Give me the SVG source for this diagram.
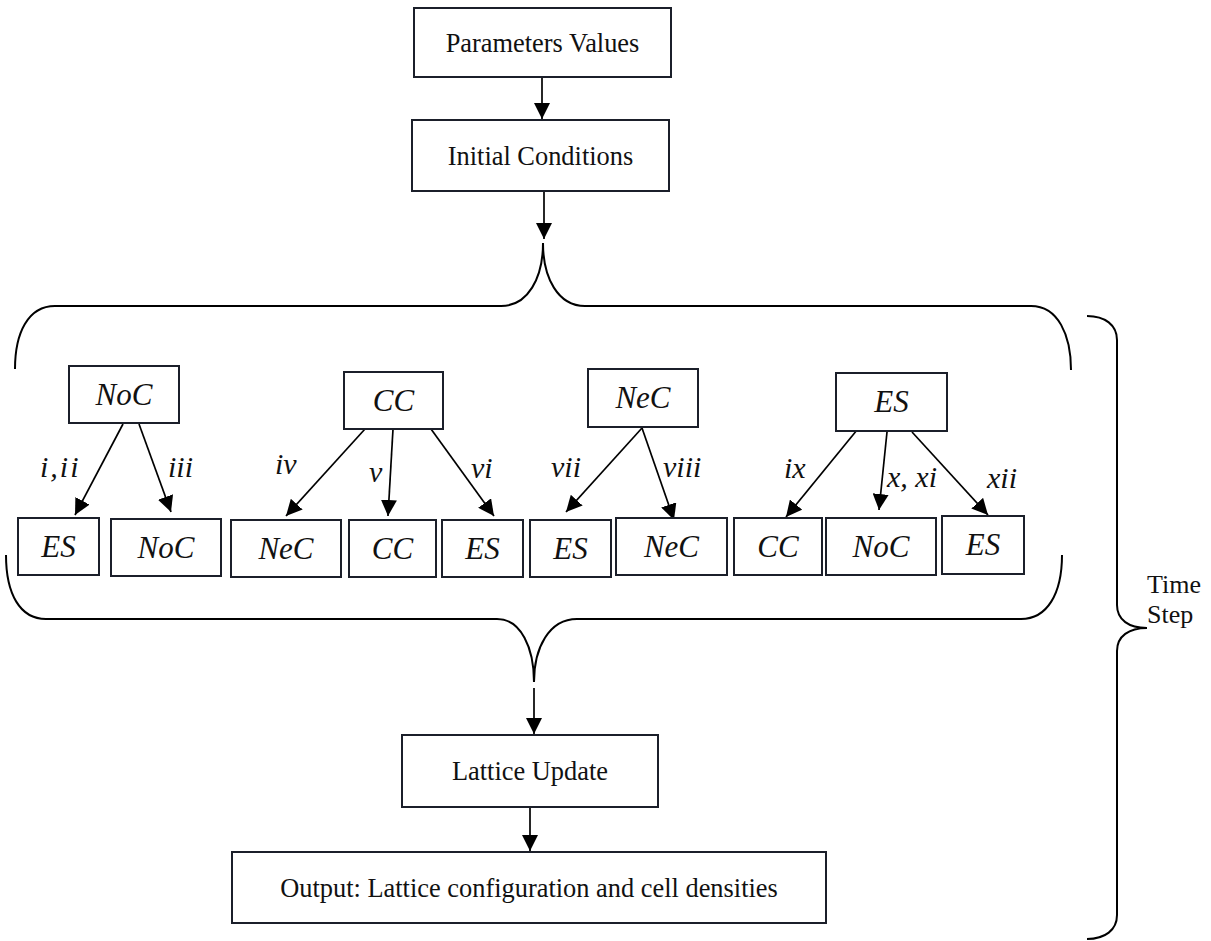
<svg xmlns="http://www.w3.org/2000/svg" width="1211" height="941" viewBox="0 0 1211 941">
<style>
.box{fill:#fff;stroke:#1b1f2a;stroke-width:2}
.t{font-family:"Liberation Serif","Times New Roman",serif;font-size:26.4px;fill:#111;text-anchor:middle}
.it{font-family:"Liberation Serif","Times New Roman",serif;font-style:italic;font-size:31px;fill:#111;text-anchor:middle}
.lb{font-family:"Liberation Serif","Times New Roman",serif;font-style:italic;font-size:30px;fill:#111}
.ts{font-family:"Liberation Serif","Times New Roman",serif;font-size:26px;fill:#111}
.c{stroke:#000;stroke-width:1.7;fill:none}
.br{stroke:#000;stroke-width:2;fill:none}
</style>
<defs>
<marker id="ah" markerUnits="userSpaceOnUse" markerWidth="17" markerHeight="16" refX="16" refY="8" orient="auto">
<path d="M0,0 L16,8 L0,16 z" fill="#000"/>
</marker>
</defs>
<rect width="1211" height="941" fill="#fff"/>

<g id="braces">
<path class="br" d="M15,369 C15,333 28,306 55,306 L501,306 C528,306 543,278 543,243 C543,278 558,306 585,306 L1031,306 C1058,306 1071,335 1071,370"/>
<path class="br" d="M6,555 C6,594 20,619 46,619 L497,619 C521,619 534,648 534,682 C534,648 549,619 577,619 L1021,619 C1047,619 1062,594 1062,555"/>
<path class="br" d="M1087,316 C1105,316 1117,325 1117,340 L1117,605 C1117,620 1129,628 1147,628 C1129,628 1117,636 1117,651 L1117,915 C1117,930 1105,939 1087,939"/>
</g>

<g id="connectors">
<line class="c" x1="542" y1="77" x2="542" y2="119" marker-end="url(#ah)"/>
<line class="c" x1="544" y1="192" x2="544" y2="239" marker-end="url(#ah)"/>
<line class="c" x1="534" y1="688" x2="534" y2="734" marker-end="url(#ah)"/>
<line class="c" x1="530" y1="807" x2="530" y2="851" marker-end="url(#ah)"/>
<line class="c" x1="123" y1="424" x2="75" y2="515" marker-end="url(#ah)"/>
<line class="c" x1="139" y1="424" x2="171" y2="512" marker-end="url(#ah)"/>
<line class="c" x1="365" y1="429" x2="286" y2="516" marker-end="url(#ah)"/>
<line class="c" x1="393" y1="429" x2="388" y2="516" marker-end="url(#ah)"/>
<line class="c" x1="431" y1="429" x2="494" y2="516" marker-end="url(#ah)"/>
<line class="c" x1="642" y1="428" x2="566" y2="512" marker-end="url(#ah)"/>
<line class="c" x1="642" y1="428" x2="674" y2="520" marker-end="url(#ah)"/>
<line class="c" x1="857" y1="430" x2="786" y2="517" marker-end="url(#ah)"/>
<line class="c" x1="887" y1="432" x2="879" y2="510" marker-end="url(#ah)"/>
<line class="c" x1="912" y1="432" x2="988" y2="515" marker-end="url(#ah)"/>
</g>

<g id="edge-labels">
<text class="lb" x="40" y="477" letter-spacing="2">i,ii</text>
<text class="lb" x="168" y="477" font-size="24">iii</text>
<text class="lb" x="275" y="474">iv</text>
<text class="lb" x="369" y="482">v</text>
<text class="lb" x="471" y="478">vi</text>
<text class="lb" x="551" y="477">vii</text>
<text class="lb" x="663" y="477">viii</text>
<text class="lb" x="784" y="478">ix</text>
<text class="lb" x="887" y="487">x, xi</text>
<text class="lb" x="987" y="488">xii</text>
</g>

<g id="n-params"><rect class="box" x="414" y="8" width="257" height="69"/><text class="t" x="542.5" y="52">Parameters Values</text></g>
<g id="n-init"><rect class="box" x="412" y="120" width="257" height="71"/><text class="t" x="540.5" y="165">Initial Conditions</text></g>

<g id="n-noc"><rect class="box" x="69" y="366" width="110" height="57"/><text class="it" x="124" y="405">NoC</text></g>
<g id="n-cc"><rect class="box" x="344" y="372" width="99" height="57"/><text class="it" x="393.5" y="411">CC</text></g>
<g id="n-nec"><rect class="box" x="588" y="369" width="110" height="58"/><text class="it" x="643" y="408">NeC</text></g>
<g id="n-es"><rect class="box" x="836" y="373" width="111" height="58"/><text class="it" x="891.5" y="412">ES</text></g>

<g id="n-es1"><rect class="box" x="18" y="518" width="81" height="57"/><text class="it" x="58.5" y="557">ES</text></g>
<g id="n-noc1"><rect class="box" x="111" y="519" width="110" height="57"/><text class="it" x="166" y="558">NoC</text></g>
<g id="n-nec1"><rect class="box" x="231" y="520" width="110" height="57"/><text class="it" x="286" y="559">NeC</text></g>
<g id="n-cc1"><rect class="box" x="349" y="520" width="87" height="57"/><text class="it" x="392.5" y="559">CC</text></g>
<g id="n-es2"><rect class="box" x="442" y="520" width="81" height="57"/><text class="it" x="482.5" y="559">ES</text></g>
<g id="n-es3"><rect class="box" x="530" y="520" width="81" height="57"/><text class="it" x="570.5" y="559">ES</text></g>
<g id="n-nec2"><rect class="box" x="616" y="518" width="111" height="57"/><text class="it" x="671.5" y="557">NeC</text></g>
<g id="n-cc2"><rect class="box" x="734" y="518" width="88" height="57"/><text class="it" x="778" y="557">CC</text></g>
<g id="n-noc2"><rect class="box" x="826" y="518" width="110" height="57"/><text class="it" x="881" y="557">NoC</text></g>
<g id="n-es4"><rect class="box" x="942" y="516" width="82" height="58"/><text class="it" x="983" y="555">ES</text></g>

<g id="n-lattice"><rect class="box" x="402" y="735" width="256" height="72"/><text class="t" x="530" y="780">Lattice Update</text></g>
<g id="n-output"><rect class="box" x="232" y="852" width="594" height="71"/><text class="t" x="529" y="897">Output: Lattice configuration and cell densities</text></g>

<g id="time-step">
<text class="ts" x="1147" y="593">Time</text>
<text class="ts" x="1147" y="623">Step</text>
</g>
</svg>
